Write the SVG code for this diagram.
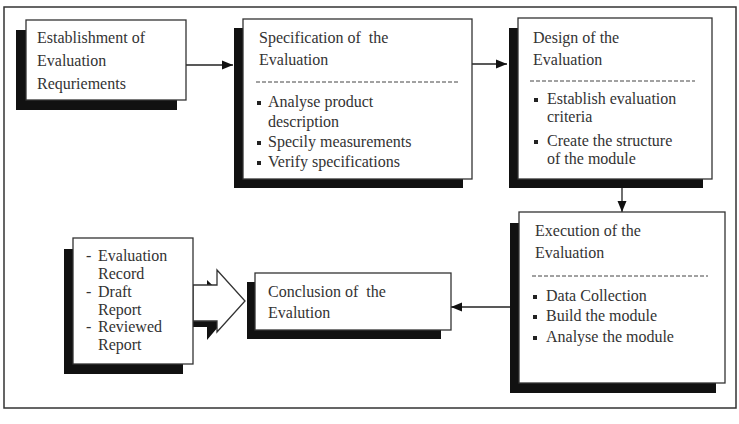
<svg xmlns="http://www.w3.org/2000/svg" width="739" height="424" viewBox="0 0 739 424">
<defs>
<style>
.box{fill:#fff;stroke:#333;stroke-width:1.3}
.sh{fill:#111}
.t{font-family:"Liberation Serif","Times New Roman",serif;font-size:16px;fill:#333;white-space:pre}
.dash{stroke:#444;stroke-width:1;stroke-dasharray:4 2;fill:none}
.ln{stroke:#222;stroke-width:1.3;fill:none}
.bul{fill:#222}
</style>
<marker id="ah" markerWidth="12" markerHeight="12" refX="11" refY="6" orient="auto" markerUnits="userSpaceOnUse">
<path d="M0,1.5 L11,6 L0,10.5 Z" fill="#111"/>
</marker>
</defs>
<rect width="739" height="424" fill="#fff"/>
<rect x="4" y="7" width="732" height="401" fill="none" stroke="#333" stroke-width="1.5"/>

<g id="connectors">
<line class="ln" x1="186" y1="65" x2="233" y2="65" marker-end="url(#ah)"/>
<line class="ln" x1="472" y1="64" x2="507" y2="64" marker-end="url(#ah)"/>
<line class="ln" x1="622" y1="179" x2="622" y2="212" marker-end="url(#ah)"/>
<line class="ln" x1="510" y1="307" x2="451" y2="307" marker-end="url(#ah)"/>
<g id="block-arrow">
<path class="sh" d="M183,291 L207,291 L207,280 L235,307 L207,340 L207,327 L183,327 Z"/>
<path d="M193,285 L217,285 L217,270 L245,301 L217,332 L217,321 L193,321 Z" fill="#fff" stroke="#333" stroke-width="1.3"/>
</g>
</g>

<g id="n1">
<rect class="sh" x="16" y="30" width="161" height="80"/>
<rect class="box" x="26" y="20" width="160" height="80"/>
<text class="t" x="37" y="43">Establishment of</text>
<text class="t" x="37" y="66">Evaluation</text>
<text class="t" x="37" y="89">Requriements</text>
</g>

<g id="n2">
<rect class="sh" x="234" y="28" width="229" height="160"/>
<rect class="box" x="243" y="19" width="229" height="160"/>
<text class="t" x="259" y="43" xml:space="preserve">Specification of  the</text>
<text class="t" x="259" y="65">Evaluation</text>
<line class="dash" x1="256" y1="82" x2="458" y2="82"/>
<rect class="bul" x="257" y="101" width="4" height="4"/>
<text class="t" x="268" y="107">Analyse product</text>
<text class="t" x="268" y="127">description</text>
<rect class="bul" x="257" y="141" width="4" height="4"/>
<text class="t" x="268" y="147">Specily measurements</text>
<rect class="bul" x="257" y="161" width="4" height="4"/>
<text class="t" x="268" y="167">Verify specifications</text>
</g>

<g id="n3">
<rect class="sh" x="509" y="28" width="194" height="160"/>
<rect class="box" x="518" y="18" width="194" height="161"/>
<text class="t" x="533" y="43">Design of the</text>
<text class="t" x="533" y="65">Evaluation</text>
<line class="dash" x1="530" y1="81" x2="695" y2="81"/>
<rect class="bul" x="534" y="98" width="4" height="4"/>
<text class="t" x="547" y="104">Establish evaluation</text>
<text class="t" x="547" y="122">criteria</text>
<rect class="bul" x="534" y="140" width="4" height="4"/>
<text class="t" x="547" y="146">Create the structure</text>
<text class="t" x="547" y="164">of the module</text>
</g>

<g id="n4">
<rect class="sh" x="510" y="223" width="206" height="170"/>
<rect class="box" x="519" y="212" width="206" height="171"/>
<text class="t" x="535" y="236">Execution of the</text>
<text class="t" x="535" y="258">Evaluation</text>
<line class="dash" x1="532" y1="276" x2="708" y2="276"/>
<rect class="bul" x="533" y="295" width="4" height="4"/>
<text class="t" x="546" y="301">Data Collection</text>
<rect class="bul" x="533" y="315" width="4" height="4"/>
<text class="t" x="546" y="321">Build the module</text>
<rect class="bul" x="533" y="336" width="4" height="4"/>
<text class="t" x="546" y="342">Analyse the module</text>
</g>

<g id="n5">
<rect class="sh" x="247" y="282" width="194" height="57"/>
<rect class="box" x="255" y="273" width="196" height="57"/>
<text class="t" x="268" y="297" xml:space="preserve">Conclusion of  the</text>
<text class="t" x="268" y="318">Evalution</text>
</g>

<g id="n6">
<rect class="sh" x="64" y="249" width="119" height="125"/>
<rect class="box" x="73" y="238" width="120" height="126"/>
<text class="t" x="86" y="261">-</text>
<text class="t" x="98" y="261">Evaluation</text>
<text class="t" x="98" y="279">Record</text>
<text class="t" x="86" y="297">-</text>
<text class="t" x="98" y="297">Draft</text>
<text class="t" x="98" y="315">Report</text>
<text class="t" x="86" y="332">-</text>
<text class="t" x="98" y="332">Reviewed</text>
<text class="t" x="98" y="350">Report</text>
</g>
</svg>
